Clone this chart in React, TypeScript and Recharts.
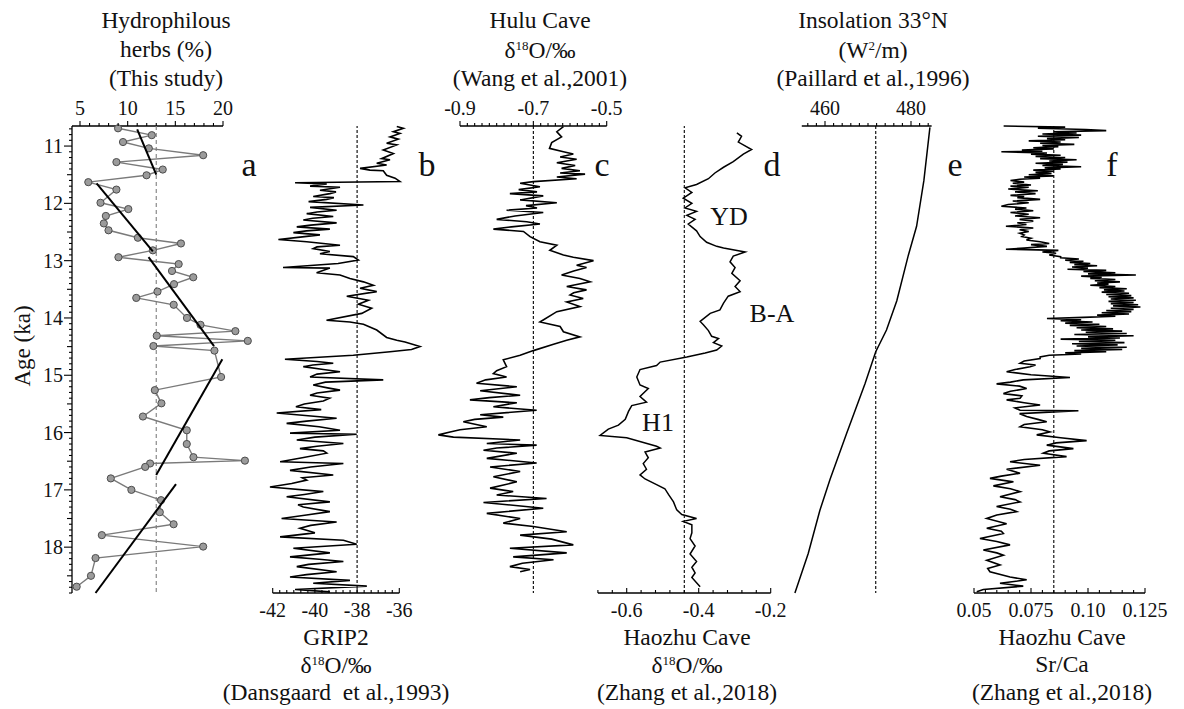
import React from 'react'
import { ScatterChart, Scatter, XAxis, YAxis, ReferenceLine } from 'recharts'

const FONT = 'Liberation Serif, Times New Roman, serif'

// ---- age axis ----
const AGE_MIN = 10.65
const AGE_MAX = 18.8
const boundaries = [11.61, 12.9, 14.6, 16.81]

// ---- a: hydrophilous herbs (%) [age, value] ----
const herbs: [number, number][] = [
  [10.69, 8.99], [10.81, 12.53], [10.93, 9.51], [11.04, 12.22], [11.16, 17.92], [11.28, 8.82],
  [11.41, 13.68], [11.51, 11.98], [11.63, 5.87], [11.76, 8.82], [11.99, 7.15], [12.1, 10.07],
  [12.22, 7.71], [12.35, 7.5], [12.47, 7.99], [12.6, 11.07], [12.7, 15.59], [12.82, 12.64],
  [12.94, 9.03], [13.06, 15.35], [13.18, 14.65], [13.29, 16.88], [13.41, 14.86], [13.54, 13.13],
  [13.65, 10.9], [13.77, 14.83], [14.0, 16.22], [14.12, 17.64], [14.23, 21.3], [14.31, 13.05],
  [14.4, 22.6], [14.49, 12.7], [14.57, 19.1], [15.03, 19.8], [15.26, 12.85], [15.49, 13.54],
  [15.72, 11.6], [15.96, 16.2], [16.2, 16.2], [16.43, 16.9], [16.49, 22.3], [16.54, 12.35],
  [16.6, 11.84], [16.8, 8.23], [17.0, 10.39], [17.18, 13.5], [17.39, 13.37], [17.6, 14.82],
  [17.79, 7.29], [17.99, 17.92], [18.19, 6.63], [18.5, 6.15], [18.69, 4.65],
]
const herbTrends: [number, number][][] = [
  [[10.71, 11.0], [11.5, 13.0]],
  [[11.65, 6.74], [12.84, 12.64]],
  [[12.94, 12.19], [14.49, 19.06]],
  [[14.72, 19.93], [16.74, 12.99]],
  [[16.9, 15.07], [18.8, 6.63]],
]
const herbTicks = [5, 10, 15, 20]

// ---- b: GRIP2 d18O ----
const grip2: [number, number][] = [
  [10.66, -36.12], [10.69, -35.81], [10.75, -36.28], [10.78, -35.97], [10.84, -36.44], [10.88, -36.05],
  [10.95, -36.6], [10.98, -36.12], [11.07, -36.76], [11.13, -36.28], [11.22, -36.84], [11.24, -36.44],
  [11.3, -37.07], [11.33, -36.6], [11.39, -37.86], [11.42, -37.39], [11.43, -36.76], [11.51, -36.6],
  [11.56, -36.2], [11.62, -35.97], [11.64, -40.94], [11.66, -39.44], [11.7, -40.23], [11.72, -38.81],
  [11.77, -39.76], [11.8, -39.0], [11.83, -39.29], [11.88, -40.08], [11.9, -39.1], [11.93, -39.44],
  [11.97, -40.3], [12.03, -37.7], [12.07, -40.23], [12.12, -38.97], [12.15, -39.9], [12.18, -40.39],
  [12.23, -39.13], [12.26, -40.1], [12.29, -40.55], [12.34, -38.97], [12.38, -40.2], [12.41, -40.86],
  [12.45, -39.29], [12.48, -40.4], [12.51, -41.02], [12.55, -39.76], [12.59, -40.7], [12.63, -41.73],
  [12.67, -40.39], [12.73, -38.81], [12.76, -39.9], [12.79, -40.08], [12.84, -39.29], [12.88, -39.76],
  [12.93, -38.18], [12.99, -37.94], [13.05, -38.9], [13.12, -41.51], [13.13, -39.29], [13.21, -39.92],
  [13.25, -38.81], [13.31, -38.34], [13.37, -37.7], [13.43, -37.23], [13.48, -37.86], [13.54, -37.07],
  [13.62, -38.49], [13.69, -37.46], [13.76, -37.94], [13.83, -37.31], [13.92, -37.78], [14.04, -39.45],
  [14.07, -38.34], [14.11, -37.7], [14.21, -37.07], [14.34, -36.6], [14.39, -36.12], [14.42, -35.73],
  [14.5, -35.02], [14.55, -35.42], [14.59, -36.44], [14.65, -38.18], [14.72, -41.42], [14.76, -39.9],
  [14.79, -39.13], [14.82, -40.1], [14.85, -40.55], [14.9, -39.6], [14.94, -38.81], [14.98, -39.9],
  [15.03, -40.23], [15.08, -36.76], [15.12, -39.5], [15.17, -40.08], [15.22, -39.4], [15.26, -38.81],
  [15.31, -39.9], [15.35, -40.23], [15.4, -39.3], [15.45, -39.6], [15.5, -40.5], [15.55, -40.9],
  [15.6, -39.7], [15.66, -41.81], [15.75, -38.97], [15.8, -40.4], [15.84, -41.34], [15.9, -39.8],
  [15.96, -38.81], [16.01, -41.18], [16.03, -38.02], [16.08, -40.0], [16.13, -40.86], [16.19, -38.65],
  [16.24, -39.9], [16.28, -40.71], [16.32, -39.6], [16.36, -39.44], [16.44, -40.6], [16.51, -41.65],
  [16.54, -38.65], [16.6, -40.2], [16.66, -41.18], [16.74, -39.13], [16.79, -40.6], [16.83, -40.39],
  [16.89, -41.1], [16.95, -42.13], [17.03, -39.6], [17.08, -40.5], [17.12, -41.34], [17.21, -39.29],
  [17.26, -40.8], [17.3, -40.55], [17.38, -39.29], [17.44, -40.4], [17.5, -41.58], [17.56, -38.97],
  [17.62, -40.2], [17.67, -40.71], [17.75, -40.0], [17.82, -41.65], [17.88, -38.65], [17.95, -38.02],
  [18.02, -41.02], [18.1, -39.29], [18.17, -41.18], [18.21, -39.8], [18.25, -38.65], [18.3, -40.3],
  [18.34, -40.86], [18.43, -38.97], [18.48, -40.4], [18.52, -41.18], [18.58, -38.34], [18.63, -40.08],
  [18.68, -37.54], [18.74, -40.94], [18.78, -39.29],
]
const gripTicks = [-42, -40, -38, -36]

// ---- c: Hulu Cave d18O ----
const hulu: [number, number][] = [
  [10.66, -0.618], [10.75, -0.636], [10.84, -0.623], [10.94, -0.65], [11.04, -0.656], [11.1, -0.618],
  [11.14, -0.591], [11.19, -0.627], [11.23, -0.582], [11.29, -0.636], [11.34, -0.586], [11.39, -0.623],
  [11.43, -0.573], [11.47, -0.627], [11.49, -0.559], [11.54, -0.636], [11.57, -0.582], [11.62, -0.7],
  [11.65, -0.736], [11.71, -0.682], [11.76, -0.74], [11.8, -0.69], [11.83, -0.764], [11.87, -0.673],
  [11.94, -0.736], [11.99, -0.636], [12.04, -0.72], [12.08, -0.69], [12.12, -0.773], [12.16, -0.673],
  [12.22, -0.75], [12.28, -0.8], [12.32, -0.718], [12.36, -0.682], [12.41, -0.76], [12.45, -0.809],
  [12.49, -0.727], [12.58, -0.709], [12.67, -0.682], [12.73, -0.636], [12.82, -0.655], [12.9, -0.618],
  [12.94, -0.591], [13.0, -0.536], [13.08, -0.582], [13.12, -0.555], [13.18, -0.59], [13.25, -0.623],
  [13.31, -0.573], [13.37, -0.545], [13.45, -0.609], [13.51, -0.555], [13.56, -0.59], [13.6, -0.6],
  [13.66, -0.564], [13.72, -0.609], [13.8, -0.573], [13.89, -0.636], [14.07, -0.682], [14.15, -0.627],
  [14.24, -0.618], [14.33, -0.573], [14.39, -0.609], [14.46, -0.645], [14.57, -0.7], [14.65, -0.736],
  [14.73, -0.782], [14.85, -0.773], [14.92, -0.8], [14.97, -0.809], [15.03, -0.773], [15.08, -0.83],
  [15.14, -0.855], [15.2, -0.745], [15.27, -0.845], [15.35, -0.736], [15.39, -0.82], [15.43, -0.873],
  [15.48, -0.745], [15.55, -0.809], [15.61, -0.691], [15.69, -0.845], [15.73, -0.782], [15.77, -0.86],
  [15.81, -0.891], [15.9, -0.827], [15.95, -0.9], [15.99, -0.927], [16.04, -0.959], [16.08, -0.918],
  [16.13, -0.736], [16.19, -0.827], [16.22, -0.691], [16.27, -0.8], [16.31, -0.836], [16.36, -0.745],
  [16.45, -0.827], [16.53, -0.691], [16.6, -0.818], [16.68, -0.736], [16.77, -0.809], [16.86, -0.745],
  [16.97, -0.818], [17.03, -0.755], [17.09, -0.8], [17.15, -0.664], [17.22, -0.836], [17.32, -0.673],
  [17.41, -0.827], [17.5, -0.736], [17.58, -0.782], [17.64, -0.7], [17.73, -0.609], [17.79, -0.736],
  [17.86, -0.65], [17.96, -0.591], [18.02, -0.764], [18.1, -0.609], [18.17, -0.755], [18.22, -0.645],
  [18.28, -0.73], [18.34, -0.764], [18.39, -0.709], [18.43, -0.736],
]
const huluTicks = [-0.9, -0.7, -0.5]

// ---- d: Haozhu Cave d18O ----
const haozhu: [number, number][] = [
  [10.77, -0.294], [10.83, -0.281], [10.93, -0.29], [11.06, -0.253], [11.14, -0.276], [11.27, -0.304],
  [11.37, -0.331], [11.47, -0.355], [11.57, -0.373], [11.67, -0.406], [11.73, -0.438], [11.81, -0.419],
  [11.91, -0.443], [12.0, -0.419], [12.08, -0.438], [12.14, -0.406], [12.21, -0.433], [12.28, -0.41],
  [12.36, -0.429], [12.48, -0.406], [12.58, -0.396], [12.68, -0.378], [12.75, -0.35], [12.78, -0.331],
  [12.85, -0.271], [12.92, -0.304], [13.02, -0.313], [13.12, -0.299], [13.22, -0.308], [13.35, -0.285],
  [13.45, -0.299], [13.54, -0.285], [13.62, -0.318], [13.74, -0.331], [13.86, -0.341], [13.92, -0.368],
  [14.06, -0.396], [14.12, -0.387], [14.22, -0.373], [14.32, -0.364], [14.36, -0.345], [14.43, -0.359],
  [14.49, -0.336], [14.56, -0.35], [14.61, -0.382], [14.68, -0.433], [14.77, -0.507], [14.83, -0.517],
  [14.9, -0.563], [15.03, -0.572], [15.17, -0.563], [15.23, -0.54], [15.37, -0.563], [15.47, -0.545],
  [15.53, -0.586], [15.63, -0.595], [15.77, -0.604], [15.87, -0.623], [15.94, -0.651], [16.05, -0.674],
  [16.09, -0.6], [16.24, -0.517], [16.27, -0.507], [16.34, -0.549], [16.44, -0.54], [16.54, -0.554],
  [16.64, -0.545], [16.74, -0.563], [16.81, -0.549], [16.91, -0.517], [16.98, -0.494], [17.08, -0.484],
  [17.21, -0.47], [17.35, -0.461], [17.43, -0.447], [17.5, -0.406], [17.55, -0.443], [17.61, -0.419],
  [17.75, -0.419], [17.85, -0.424], [17.98, -0.41], [18.12, -0.424], [18.25, -0.406], [18.35, -0.419],
  [18.45, -0.41], [18.53, -0.419], [18.69, -0.396],
]
const haozhuTicks = [-0.6, -0.4, -0.2]

// ---- e: insolation 33N ----
const insolation: [number, number][] = [
  [10.675, 484.4], [11.6, 483.0], [12.4, 481.3], [12.9, 479.4], [13.7, 476.7], [14.21, 474.3],
  [14.59, 471.8], [15.15, 469.3], [16.02, 465.0], [16.81, 461.2], [17.36, 458.8], [18.11, 456.1],
  [18.8, 453.0],
]
const insoTicks = [460, 480]

// ---- f: Haozhu Cave Sr/Ca ----
const srca: [number, number][] = [
  [10.65, 0.063], [10.67, 0.09], [10.69, 0.078], [10.71, 0.099], [10.73, 0.108], [10.75, 0.085],
  [10.77, 0.095], [10.79, 0.08], [10.81, 0.097], [10.83, 0.078], [10.85, 0.096], [10.87, 0.082],
  [10.89, 0.09], [10.91, 0.074], [10.93, 0.088], [10.95, 0.079], [10.97, 0.094], [10.99, 0.08],
  [11.01, 0.087], [11.03, 0.076], [11.05, 0.085], [11.07, 0.071], [11.09, 0.08], [11.1, 0.062],
  [11.12, 0.082], [11.14, 0.075], [11.16, 0.088], [11.18, 0.077], [11.2, 0.09], [11.22, 0.079],
  [11.24, 0.095], [11.26, 0.083], [11.28, 0.091], [11.3, 0.077], [11.32, 0.089], [11.34, 0.08],
  [11.36, 0.097], [11.38, 0.081], [11.4, 0.088], [11.42, 0.076], [11.44, 0.085], [11.46, 0.077],
  [11.48, 0.084], [11.5, 0.074], [11.52, 0.085], [11.54, 0.072], [11.56, 0.079], [11.58, 0.07],
  [11.6, 0.066], [11.63, 0.072], [11.65, 0.067], [11.68, 0.075], [11.7, 0.066], [11.72, 0.074],
  [11.75, 0.065], [11.78, 0.078], [11.8, 0.068], [11.83, 0.077], [11.86, 0.066], [11.88, 0.072],
  [11.9, 0.069], [11.93, 0.079], [11.96, 0.067], [11.99, 0.074], [12.02, 0.065], [12.05, 0.062],
  [12.08, 0.073], [12.1, 0.068], [12.13, 0.076], [12.16, 0.066], [12.19, 0.074], [12.22, 0.068],
  [12.25, 0.079], [12.28, 0.07], [12.31, 0.076], [12.34, 0.069], [12.37, 0.073], [12.4, 0.064],
  [12.43, 0.076], [12.46, 0.07], [12.49, 0.074], [12.52, 0.07], [12.55, 0.072], [12.58, 0.071],
  [12.61, 0.075], [12.64, 0.073], [12.67, 0.079], [12.7, 0.083], [12.72, 0.075], [12.75, 0.082],
  [12.78, 0.072], [12.8, 0.064], [12.82, 0.087], [12.85, 0.08], [12.87, 0.086], [12.9, 0.083],
  [12.93, 0.088], [12.95, 0.088], [12.97, 0.096], [12.99, 0.09], [13.01, 0.098], [13.03, 0.092],
  [13.05, 0.101], [13.07, 0.094], [13.09, 0.104], [13.11, 0.093], [13.13, 0.1], [13.15, 0.091],
  [13.17, 0.108], [13.19, 0.098], [13.21, 0.112], [13.23, 0.1], [13.25, 0.121], [13.27, 0.097],
  [13.29, 0.106], [13.31, 0.101], [13.33, 0.112], [13.35, 0.103], [13.37, 0.114], [13.39, 0.104],
  [13.41, 0.109], [13.43, 0.101], [13.45, 0.112], [13.47, 0.105], [13.49, 0.117], [13.51, 0.107],
  [13.53, 0.116], [13.55, 0.106], [13.57, 0.118], [13.59, 0.108], [13.61, 0.119], [13.63, 0.109],
  [13.65, 0.12], [13.67, 0.11], [13.69, 0.121], [13.71, 0.109], [13.73, 0.12], [13.75, 0.11],
  [13.77, 0.122], [13.79, 0.111], [13.81, 0.123], [13.83, 0.11], [13.85, 0.12], [13.87, 0.108],
  [13.89, 0.119], [13.91, 0.106], [13.93, 0.118], [13.95, 0.104], [13.97, 0.112], [13.99, 0.098],
  [14.01, 0.082], [14.03, 0.097], [14.05, 0.088], [14.07, 0.102], [14.09, 0.09], [14.11, 0.105],
  [14.13, 0.092], [14.15, 0.108], [14.17, 0.095], [14.19, 0.111], [14.21, 0.097], [14.23, 0.115],
  [14.25, 0.099], [14.27, 0.117], [14.29, 0.094], [14.31, 0.12], [14.33, 0.1], [14.35, 0.114],
  [14.37, 0.088], [14.39, 0.112], [14.41, 0.096], [14.43, 0.116], [14.45, 0.093], [14.47, 0.113],
  [14.49, 0.095], [14.51, 0.117], [14.53, 0.097], [14.55, 0.115], [14.57, 0.094], [14.59, 0.108],
  [14.61, 0.09], [14.63, 0.097], [14.65, 0.083], [14.68, 0.079], [14.71, 0.079], [14.75, 0.072],
  [14.79, 0.0702], [14.82, 0.077], [14.85, 0.0746], [14.9, 0.068], [14.94, 0.0643], [14.99, 0.075],
  [15.04, 0.0921], [15.08, 0.0716], [15.12, 0.066], [15.15, 0.0599], [15.19, 0.07], [15.23, 0.0731],
  [15.28, 0.066], [15.32, 0.0629], [15.36, 0.071], [15.4, 0.0702], [15.43, 0.0643], [15.48, 0.072],
  [15.52, 0.079], [15.57, 0.068], [15.61, 0.0702], [15.62, 0.0958], [15.67, 0.07], [15.72, 0.0731],
  [15.77, 0.078], [15.81, 0.0819], [15.86, 0.072], [15.9, 0.0702], [15.95, 0.08], [15.99, 0.0833],
  [16.04, 0.0775], [16.09, 0.088], [16.14, 0.0994], [16.18, 0.086], [16.22, 0.0819], [16.28, 0.0936],
  [16.32, 0.083], [16.36, 0.0804], [16.42, 0.0906], [16.47, 0.072], [16.51, 0.0658], [16.57, 0.079],
  [16.64, 0.0643], [16.71, 0.0702], [16.76, 0.062], [16.8, 0.057], [16.86, 0.0673], [16.93, 0.0585],
  [16.98, 0.066], [17.03, 0.0702], [17.12, 0.0614], [17.17, 0.068], [17.21, 0.0702], [17.29, 0.0599],
  [17.34, 0.066], [17.38, 0.0687], [17.44, 0.06], [17.5, 0.0556], [17.59, 0.0643], [17.67, 0.0556],
  [17.72, 0.062], [17.76, 0.0629], [17.85, 0.0526], [17.9, 0.06], [17.96, 0.0658], [18.05, 0.0541],
  [18.1, 0.06], [18.14, 0.0629], [18.23, 0.0556], [18.31, 0.0614], [18.37, 0.056], [18.43, 0.057],
  [18.52, 0.0658], [18.57, 0.0731], [18.63, 0.0614], [18.68, 0.0716], [18.74, 0.0541], [18.78, 0.0512],
]
const srcaTicks = [0.05, 0.075, 0.1, 0.125]
const srcaLabels = ['0.05', '0.075', '0.10', '0.125']

// ---- layout ----
const W = 1184
const H = 709
const PLOT_TOP = 126
const PLOT_BOTTOM = 593
const PLOT_LEFT = 72
const PLOT_RIGHT = 1150
const AXIS_H = 1 // each visible x axis needs some height to render
const TITLE_SIZE = 23.5

type Panel = {
  id: string
  side: 'top' | 'bottom'
  cal: [number, number, number, number] // value1, px1, value2, px2
  axis: [number, number]
  minorStep: number
  majors: number[]
  labels?: string[]
}

const panels: Panel[] = [
  { id: 'a', side: 'top', cal: [5, 80, 20, 223], axis: [4.16, 20], minorStep: 1, majors: herbTicks },
  { id: 'b', side: 'bottom', cal: [-42, 272.7, -36, 399.3], axis: [-42, -36], minorStep: 1 / 3, majors: gripTicks },
  { id: 'c', side: 'top', cal: [-0.9, 460, -0.5, 606.7], axis: [-0.9, -0.5], minorStep: 0.02, majors: huluTicks },
  { id: 'd', side: 'bottom', cal: [-0.6, 626.7, -0.2, 770.7], axis: [-0.68, -0.2], minorStep: 0.04, majors: haozhuTicks },
  { id: 'e', side: 'top', cal: [460, 825, 480, 911], axis: [454.6, 484.8], minorStep: 2, majors: insoTicks },
  { id: 'f', side: 'bottom', cal: [0.05, 974, 0.125, 1145], axis: [0.05, 0.125], minorStep: 0.005, majors: srcaTicks, labels: srcaLabels },
]
const nTop = panels.filter((p) => p.side === 'top').length
const nBottom = panels.length - nTop

const domainOf = (p: Panel): [number, number] => {
  const [v1, p1, v2, p2] = p.cal
  const k = (v2 - v1) / (p2 - p1)
  return [v1 - (p1 - PLOT_LEFT) * k, v2 + (PLOT_RIGHT - p2) * k]
}

const tickList = (p: Panel) => {
  const out: number[] = []
  const first = Math.ceil(p.axis[0] / p.minorStep - 1e-6)
  const last = Math.floor(p.axis[1] / p.minorStep + 1e-6)
  for (let i = first; i <= last; i++) out.push(+(i * p.minorStep).toFixed(6))
  return out
}

const ageTicks: number[] = []
for (let i = 107; i <= 188; i++) ageTicks.push(i / 10)

const pts = (s: [number, number][]) => s.map(([age, v]) => ({ age, v }))
const noShape = () => <g />
const herbDot = (p: any) => (
  <circle cx={p.cx} cy={p.cy} r={3.6} fill="#9b9b9b" stroke="#4d4d4d" strokeWidth={1} />
)

const makeXTick = (p: Panel) => (props: any) => {
  const { x, payload } = props
  const y = p.side === 'top' ? PLOT_TOP : PLOT_BOTTOM
  const i = p.majors.findIndex((m) => Math.abs(m - payload.value) < 1e-6)
  const len = i >= 0 ? 5 : 3
  const label = i >= 0 ? (p.labels ? p.labels[i] : String(p.majors[i])) : null
  return (
    <g>
      <line x1={x} x2={x} y1={y} y2={y - len} stroke="#000" strokeWidth={1.1} />
      {label && (
        <text x={x} y={p.side === 'top' ? y - 11 : y + 24} textAnchor="middle" fontSize={20} fontFamily={FONT} fill="#111">
          {label}
        </text>
      )}
    </g>
  )
}

const AgeTick = (props: any) => {
  const { x, y, payload } = props
  const v = payload.value
  const major = Math.abs(v - Math.round(v)) < 1e-6
  const half = !major && Math.abs(v * 2 - Math.round(v * 2)) < 1e-6
  const len = major ? 8 : half ? 5 : 3
  return (
    <g>
      <line x1={x} x2={x - len} y1={y} y2={y} stroke="#000" strokeWidth={1.1} />
      {major && (
        <text x={x - 9} y={y} dy="0.35em" textAnchor="end" fontSize={20} fontFamily={FONT} fill="#111">
          {Math.round(v)}
        </text>
      )}
    </g>
  )
}

const Title = ({ x, lines }: { x: number; lines: { y: number; node: React.ReactNode }[] }) => (
  <>
    {lines.map((l, i) => (
      <text key={i} x={x} y={l.y} textAnchor="middle" fontSize={TITLE_SIZE} fontFamily={FONT} fill="#111" style={{ whiteSpace: 'pre' }}>
        {l.node}
      </text>
    ))}
  </>
)

const d18O = (
  <>
    <tspan>δ</tspan>
    <tspan dy={-8} fontSize={13}>18</tspan>
    <tspan dy={8}>O/‰</tspan>
  </>
)
const wm = (
  <>
    <tspan>(W</tspan>
    <tspan dy={-8} fontSize={13}>2</tspan>
    <tspan dy={8}>/m)</tspan>
  </>
)

export default function App() {
  return (
    <div style={{ position: 'absolute', left: 0, top: 0, width: W, height: H, background: '#fff' }}>
      <ScatterChart
        width={W}
        height={H}
        margin={{ top: PLOT_TOP - nTop * AXIS_H, bottom: H - PLOT_BOTTOM - nBottom * AXIS_H, left: 0, right: W - PLOT_RIGHT }}
      >
        <XAxis xAxisId="frame" type="number" dataKey="v" domain={[PLOT_LEFT, PLOT_RIGHT]} hide />
        {panels.map((p) => (
          <XAxis
            key={p.id}
            xAxisId={p.id}
            type="number"
            dataKey="v"
            orientation={p.side}
            domain={domainOf(p)}
            ticks={tickList(p)}
            interval={0}
            height={AXIS_H}
            axisLine={false}
            tickLine={false}
            tickSize={0}
            tickMargin={0}
            tick={makeXTick(p)}
          />
        ))}
        <YAxis
          type="number"
          dataKey="age"
          domain={[AGE_MIN, AGE_MAX]}
          reversed
          width={PLOT_LEFT}
          ticks={ageTicks}
          interval={0}
          tickSize={0}
          tickMargin={0}
          tickLine={false}
          axisLine={{ stroke: '#000', strokeWidth: 1.3 }}
          tick={AgeTick}
        />

        {boundaries.map((b) => (
          <ReferenceLine
            key={b}
            xAxisId="frame"
            segment={[{ x: 57, y: b }, { x: 1148, y: b }]}
            ifOverflow="visible"
            stroke="#000"
            strokeWidth={1.5}
            strokeDasharray="8 5"
          />
        ))}

        {panels.map((p) => (
          <ReferenceLine
            key={'ax' + p.id}
            xAxisId={p.id}
            segment={[
              { x: p.axis[0], y: p.side === 'top' ? AGE_MIN : AGE_MAX },
              { x: p.axis[1], y: p.side === 'top' ? AGE_MIN : AGE_MAX },
            ]}
            ifOverflow="visible"
            stroke="#000"
            strokeWidth={1.3}
          />
        ))}

        <ReferenceLine xAxisId="a" x={13} stroke="#8a8a8a" strokeWidth={1.2} strokeDasharray="4 3" />
        <ReferenceLine xAxisId="b" x={-38} stroke="#000" strokeWidth={1.1} strokeDasharray="3 2" />
        <ReferenceLine xAxisId="c" x={-0.7} stroke="#000" strokeWidth={1.1} strokeDasharray="3 2" />
        <ReferenceLine xAxisId="d" x={-0.44} stroke="#000" strokeWidth={1.1} strokeDasharray="3 2" />
        <ReferenceLine xAxisId="e" x={471.8} stroke="#000" strokeWidth={1.1} strokeDasharray="3 2" />
        <ReferenceLine xAxisId="f" x={0.085} stroke="#000" strokeWidth={1.1} strokeDasharray="3 2" />

        <Scatter
          xAxisId="a"
          data={pts(herbs)}
          line={{ stroke: '#7a7a7a', strokeWidth: 1.4 }}
          shape={herbDot}
          isAnimationActive={false}
        />
        {herbTrends.map((t, i) => (
          <Scatter
            key={'t' + i}
            xAxisId="a"
            data={pts(t)}
            line={{ stroke: '#000', strokeWidth: 2 }}
            shape={noShape}
            isAnimationActive={false}
          />
        ))}
        <Scatter xAxisId="b" data={pts(grip2)} line={{ stroke: '#000', strokeWidth: 1.6 }} shape={noShape} isAnimationActive={false} />
        <Scatter xAxisId="c" data={pts(hulu)} line={{ stroke: '#000', strokeWidth: 1.6 }} shape={noShape} isAnimationActive={false} />
        <Scatter xAxisId="d" data={pts(haozhu)} line={{ stroke: '#000', strokeWidth: 1.5 }} shape={noShape} isAnimationActive={false} />
        <Scatter xAxisId="e" data={pts(insolation)} line={{ stroke: '#000', strokeWidth: 1.5 }} shape={noShape} isAnimationActive={false} />
        <Scatter xAxisId="f" data={pts(srca)} line={{ stroke: '#000', strokeWidth: 1.6 }} shape={noShape} isAnimationActive={false} />
      </ScatterChart>

      <svg width={W} height={H} style={{ position: 'absolute', left: 0, top: 0, pointerEvents: 'none' }}>
        <Title x={166} lines={[
          { y: 28, node: 'Hydrophilous' },
          { y: 57, node: 'herbs (%)' },
          { y: 86, node: '(This study)' },
        ]} />
        <Title x={540} lines={[
          { y: 28, node: 'Hulu Cave' },
          { y: 58, node: d18O },
          { y: 86, node: '(Wang et al.,2001)' },
        ]} />
        <Title x={873} lines={[
          { y: 28, node: 'Insolation 33°N' },
          { y: 58, node: wm },
          { y: 86, node: '(Paillard et al.,1996)' },
        ]} />
        <Title x={336} lines={[
          { y: 645, node: 'GRIP2' },
          { y: 673, node: d18O },
          { y: 700, node: '(Dansgaard  et al.,1993)' },
        ]} />
        <Title x={687} lines={[
          { y: 645, node: 'Haozhu Cave' },
          { y: 673, node: d18O },
          { y: 700, node: '(Zhang et al.,2018)' },
        ]} />
        <Title x={1062} lines={[
          { y: 645, node: 'Haozhu Cave' },
          { y: 672, node: 'Sr/Ca' },
          { y: 700, node: '(Zhang et al.,2018)' },
        ]} />

        {[['a', 249], ['b', 427], ['c', 602], ['d', 772], ['e', 955], ['f', 1112]].map(([t, x]) => (
          <text key={t as string} x={x as number} y={176} textAnchor="middle" fontSize={34} fontFamily={FONT} fill="#111">
            {t}
          </text>
        ))}
        <text x={729} y={225} textAnchor="middle" fontSize={26} fontFamily={FONT} fill="#111">YD</text>
        <text x={772} y={322} textAnchor="middle" fontSize={26} fontFamily={FONT} fill="#111">B-A</text>
        <text x={658} y={431} textAnchor="middle" fontSize={26} fontFamily={FONT} fill="#111">H1</text>
        <text transform="translate(30,346) rotate(-90)" textAnchor="middle" fontSize={23} fontFamily={FONT} fill="#111">
          Age (ka)
        </text>
      </svg>
    </div>
  )
}
